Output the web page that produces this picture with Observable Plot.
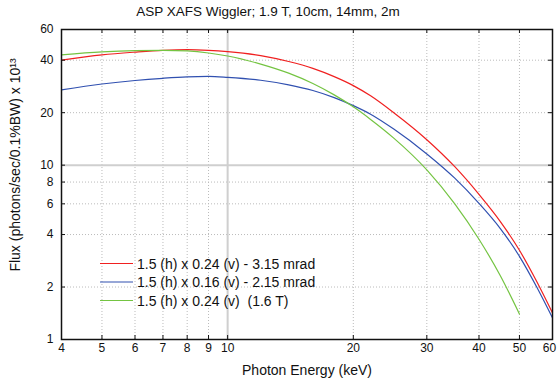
<!DOCTYPE html>
<html><head><meta charset="utf-8">
<script src="https://cdn.jsdelivr.net/npm/d3@7"></script>
<script src="https://cdn.jsdelivr.net/npm/@observablehq/plot@0.6"></script>
<style>
body{margin:0;background:#fff;font-family:"Liberation Sans",Arial,sans-serif;}
#wrap{position:relative;width:557px;height:383px;overflow:hidden;}
#title{position:absolute;top:4px;left:0;width:536px;text-align:center;font-size:13.5px;color:#111;}
#chart{position:absolute;left:0;top:0;}
#overlay{position:absolute;left:0;top:0;pointer-events:none;}
</style></head><body>
<div id="wrap"><div id="chart"></div><div id="title">ASP XAFS Wiggler; 1.9 T, 10cm, 14mm, 2m</div><svg id="overlay" width="557" height="383"></svg></div>
<script>
const seriesNames = [
  "1.5 (h) x 0.24 (v) - 3.15 mrad",
  "1.5 (h) x 0.16 (v) - 2.15 mrad",
  "1.5 (h) x 0.24 (v)  (1.6 T)"
];
const seriesColors = ["#f02020", "#3050b0", "#74c442"];
const energy      = [4, 5, 6, 7, 8, 9, 10, 12, 14, 16, 18, 20, 22, 25, 30, 35, 40, 45, 50, 55, 60];
const fluxRed     = [40.0, 42.9, 44.5, 45.6, 46.0, 45.6, 44.8, 42.5, 39.3, 35.9, 32.2, 28.6, 25.0, 20.0, 14.0, 9.8, 6.8, 4.75, 3.25, 2.15, 1.42];
const fluxBlue    = [27.0, 29.2, 30.6, 31.5, 32.1, 32.3, 31.9, 30.7, 28.9, 26.8, 24.4, 21.95, 19.6, 16.1, 11.6, 8.42, 6.04, 4.33, 3.0, 2.0, 1.33];
const energyGreen = [4, 5, 6, 7, 8, 9, 10, 12, 14, 16, 18, 20, 22, 25, 30, 35, 40, 45, 50];
const fluxGreen   = [42.9, 44.6, 45.4, 45.6, 45.2, 44.0, 42.3, 38.0, 33.7, 29.4, 25.3, 21.6, 18.3, 14.3, 9.4, 6.0, 3.76, 2.32, 1.40];
const xTicks = [4, 5, 6, 7, 8, 9, 10, 20, 30, 40, 50, 60];
const yTicks = [1, 2, 4, 6, 8, 10, 20, 40, 60];
const xLabel = "Photon Energy (keV)";
const yLabel = "Flux (photons/sec/0.1%BW) x 10\u00b9\u00b3";

const rows = [];
energy.forEach((e, i) => rows.push({series: seriesNames[0], e, f: fluxRed[i]}));
energy.forEach((e, i) => rows.push({series: seriesNames[1], e, f: fluxBlue[i]}));
energyGreen.forEach((e, i) => rows.push({series: seriesNames[2], e, f: fluxGreen[i]}));

const W = 557, H = 383, mT = 29, mB = 44, mL = 61, mR = 5;
const fw = W - mL - mR, fh = H - mT - mB;
const grid = {stroke: "#bbbbbb", strokeDasharray: "1,2", strokeWidth: 1};
const font = "'Liberation Sans', Arial, sans-serif";
const lastX = xTicks[xTicks.length - 1];
const chart = Plot.plot({
  width: W, height: H, marginTop: mT, marginBottom: mB, marginLeft: mL, marginRight: mR,
  style: {fontFamily: font, fontSize: "12px", background: "white", color: "#111", overflow: "visible"},
  x: {type: "log", domain: [4, 60], axis: null},
  y: {type: "log", domain: [1, 60], axis: null},
  color: {domain: seriesNames, range: seriesColors},
  marks: [
    Plot.ruleX(xTicks.filter(d => d !== 10), grid),
    Plot.ruleY(yTicks.filter(d => d !== 10), grid),
    Plot.ruleX([10], {stroke: "#cfcfcf", strokeWidth: 2}),
    Plot.ruleY([10], {stroke: "#cfcfcf", strokeWidth: 2}),
    Plot.line(rows, {x: "e", y: "f", z: "series", stroke: "series", strokeWidth: 1.2, curve: "monotone-x"}),
    Plot.ruleX(xTicks, {stroke: "#111", insetTop: fh - 4}),
    Plot.ruleX(xTicks, {stroke: "#111", insetBottom: fh - 4}),
    Plot.ruleY(yTicks, {stroke: "#111", insetRight: fw - 4}),
    Plot.ruleY(yTicks, {stroke: "#111", insetLeft: fw - 4}),
    Plot.frame({stroke: "#111", strokeWidth: 1.5}),
    Plot.text(xTicks.filter(d => d !== lastX), {x: d => d, text: d => String(d), frameAnchor: "bottom", dy: 12, fontSize: 12, fill: "#111"}),
    Plot.text([lastX], {x: d => d, text: d => String(d), frameAnchor: "bottom", dy: 12, dx: -3, fontSize: 12, fill: "#111"}),
    Plot.text(yTicks, {y: d => d, text: d => String(d), frameAnchor: "left", dx: -8, textAnchor: "end", fontSize: 12, fill: "#111"}),
    Plot.text([xLabel], {frameAnchor: "bottom", dy: 35, fontSize: 14, fill: "#111"})
  ]
});
document.getElementById("chart").appendChild(chart);

const ov = d3.select("#overlay");
ov.append("text").attr("transform", "translate(15,165) rotate(-90)").attr("dy", "0.36em")
  .attr("text-anchor", "middle").attr("font-size", 14).attr("fill", "#111")
  .attr("font-family", font).text(yLabel);
seriesNames.forEach((name, i) => {
  const y = 263.5 + i * 18.5;
  ov.append("line").attr("x1", 100).attr("x2", 133).attr("y1", y).attr("y2", y)
    .attr("stroke", seriesColors[i]).attr("stroke-width", 1.2);
  ov.append("text").attr("x", 137).attr("y", y).attr("dy", "0.36em")
    .attr("font-size", 14).attr("fill", "#111").style("white-space", "pre")
    .attr("font-family", font).text(name);
});
</script>
</body></html>
